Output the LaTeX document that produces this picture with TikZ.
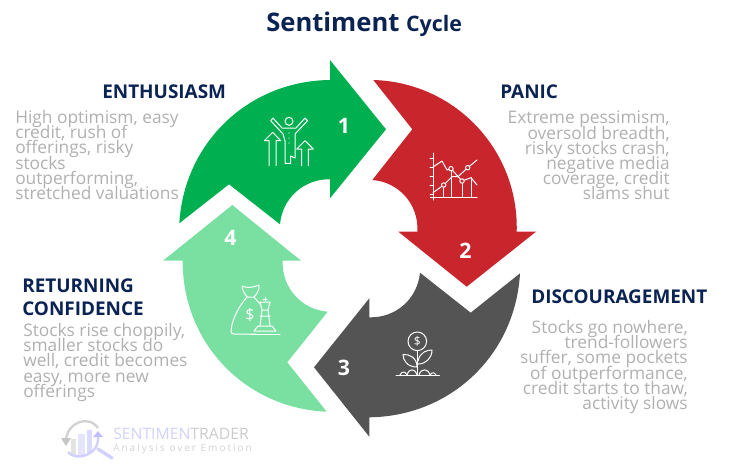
\documentclass[tikz,border=0pt]{standalone}
\usepackage{fontspec}
\usepackage{xcolor}
\setmainfont{Open Sans}
\setlength{\lineskiplimit}{-20pt}
\definecolor{enthgreen}{HTML}{00B050}
\definecolor{panicred}{HTML}{C8252D}
\definecolor{discgray}{HTML}{545454}
\definecolor{confgreen}{HTML}{7AE0A2}
\definecolor{navy}{HTML}{0B2353}
\definecolor{bodygray}{HTML}{B0B0B0}
\tikzset{
    cyclearrow/.style={draw=none},
    heading/.style={anchor=base west, inner sep=0pt, text=navy, font=\fontsize{14.2}{17}\selectfont\bfseries},
    bodyleft/.style={anchor=north west, inner sep=0pt, text=bodygray, align=left, font=\fontsize{13}{11.4}\selectfont},
    bodyright/.style={anchor=north east, inner sep=0pt, text=bodygray, align=right, font=\fontsize{13}{11.4}\selectfont},
    stepnum/.style={inner sep=0pt, text=white, font=\fontsize{16}{18}\selectfont\bfseries},
    icon/.style={draw=white, line width=0.75pt, line join=round, line cap=round},
    dollar/.style={inner sep=0pt, text=white, font=\fontsize{12}{14}\selectfont}
}

\begin{document}
\begin{tikzpicture}[x=0.75pt,y=-0.75pt]
    \useasboundingbox (0,0) rectangle (731,468);
    % title
    \node[anchor=base west, inner sep=0pt, text=navy] (title) at (266,31)
        {\fontsize{19.2}{20}\selectfont\bfseries Sentiment \fontsize{16}{20}\selectfont Cycle};

    % the four arrows
    \fill[cyclearrow, enthgreen] (179.3,223.3) to[bend left=43] (330,80) -- (330,60) -- (386,129.3)
        -- (330,198.3) -- (330,179.3) to[bend right=43] (280,224.3) -- (229,184.3) -- cycle;
    \fill[cyclearrow, panicred] (373.3,80) to[bend left=45] (516.7,231.7) -- (536,231.7) -- (466.7,286.7)
        -- (398.3,231.7) -- (417.3,231.7) to[bend right=45] (372.3,180) -- (412.3,129.3) -- cycle;
    \fill[cyclearrow, discgray] (520,273.3) to[bend left=43] (369.3,417.3) -- (369.3,436.7) -- (314,367.3)
        -- (369.3,298.3) -- (369.3,317.3) to[bend right=43] (420,272.7) -- (470.7,312.7) -- cycle;
    \fill[cyclearrow, confgreen] (326.7,411.7) to[bend left=44] (182.7,260.7) -- (163,260.7) -- (232.3,205)
        -- (301,260.7) -- (282.7,260.7) to[bend right=44] (327.7,311.7) -- (287.3,362.3) -- cycle;

    \node[stepnum] (one) at (344,126) {1};
    \node[stepnum] (two) at (465.5,251) {2};
    \node[stepnum] (three) at (344,368) {3};
    \node[stepnum] (four) at (230.5,238) {4};

    % headings and texts
    \node[heading] (enth) at (102,98) {ENTHUSIASM};
    \node[bodyleft] (enthtext) at (15,110) {High optimism, easy\\credit, rush of\\offerings, risky\\stocks\\outperforming,\\stretched valuations};
    \node[heading] (panic) at (500,98) {PANIC};
    \node[bodyright] (panictext) at (670,111) {Extreme pessimism,\\oversold breadth,\\risky stocks crash,\\negative media\\coverage, credit\\slams shut};
    \node[heading] (disc) at (531,303) {DISCOURAGEMENT};
    \node[bodyright] (disctext) at (688,320) {Stocks go nowhere,\\trend-followers\\suffer, some pockets\\of outperformance,\\credit starts to thaw,\\activity slows};
    \node[heading, align=left, anchor=north west] (conf) at (22,279) {RETURNING\\CONFIDENCE};
    \node[bodyleft] (conftext) at (23,323) {Stocks rise choppily,\\smaller stocks do\\well, credit becomes\\easy, more new\\offerings};

    % icon 1, figure and arrows
    \draw[icon] (289,121.3) circle (4);
    \draw[icon] (270.7,120.7) -- (273,118) -- (282,128) -- (296,128) -- (305,118) -- (307.5,120.7) -- (295,134)
        -- (295,158) -- (290.7,156) -- (290.7,163.3) -- (285,163.3) -- (285,141) -- (283,134) -- cycle;
    \draw[icon] (269,165.7) -- (269,140.7) -- (264.3,140.7) -- (272.7,132.3) -- (280.7,140.7) -- (276,140.7) -- (276,165.7);
    \draw[icon] (301.7,165.7) -- (301.7,149) -- (296.7,149) -- (305,140.7) -- (313.3,149) -- (308.3,149) -- (308.3,165.7);
    \foreach \dy in {133,138,143} \fill[white] (289,\dy) circle (0.7);

    % icon 2, chart
    \draw[icon] (433,153) -- (433,200);
    \draw[icon] (430.3,197) -- (477,197);
    \foreach \ty in {158,167,176,185,194} \draw[icon] (430,\ty) -- (433,\ty);
    \draw[icon] (433,167) -- (442,161) -- (447,170) -- (451,168.7) -- (462,181) -- (471,177.7) -- (477,185);
    \draw[icon] (433,192.7) -- (443.7,185) -- (452,176.7) -- (458,176.7) -- (467.7,167.7) -- (477,160);
    \foreach \bx/\by in {443.7/185,451/168.7,462/181,471.3/177.7} \draw[icon] (\bx,\by) -- (\bx,197);
    \foreach \cx/\cy in {443.7/185,451/168.7,462/181,467.7/167.7} \filldraw[icon, fill=panicred] (\cx,\cy) circle (2.2);

    % icon 3, bag and chess piece
    \draw[icon] (242,286) .. controls (246,288) and (252,288) .. (259,285) .. controls (260,290) and (256,295) .. (254,297)
        -- (247,297) .. controls (245,294) and (242,290) .. (242,286);
    \draw[icon] (247,297) .. controls (240,305) and (232,318) .. (231,331) .. controls (231,333) and (232,334) .. (234,334) -- (256,334);
    \draw[icon] (254,297) -- (260,304);
    \node[dollar] (bagdollar) at (250,315) {\$};
    \draw[icon] (265,297) -- (265,301) (263,299) -- (267,299);
    \draw[icon] (260,302) -- (270,302) -- (268,310) -- (262,310) -- cycle;
    \draw[icon] (262,310) -- (260,326) (268,310) -- (270,326) (260,316) -- (270,316);
    \draw[icon] (258,326) -- (272,326) -- (276,331) -- (254,331) -- cycle;
    \draw[icon] (251,334) -- (280,334);

    % icon 4, plant
    \draw[icon] (417.3,341.3) circle (9.3);
    \node[dollar, font=\fontsize{9}{10}\selectfont] (plantdollar) at (417.3,341.3) {\$};
    \draw[icon] (417.3,350.6) -- (417.3,375);
    \draw[icon] (417,367) .. controls (407,367) and (403,360) .. (403,354.5) .. controls (410,354) and (417,358) .. (417,367);
    \draw[icon] (418,361) .. controls (420,352) and (427,350) .. (432,350) .. controls (432,358) and (426,364) .. (418,364);
    \draw[icon] (396,375.3) -- (439.3,375.3);
    \draw[icon] (400,375) .. controls (402,371) and (405,371) .. (407,375);
    \draw[icon] (407,375) .. controls (409,368) and (415,368) .. (417,375);
    \draw[icon] (419,375) .. controls (421,368) and (428,368) .. (430,375);
    \draw[icon] (430,375) .. controls (432,372) and (434,372) .. (436,375);

    % logo
    \fill[gray!22] (71,439) rectangle (76,455);
    \fill[blue!10] (78,434) rectangle (85,455);
    \fill[blue!14] (87,430) rectangle (92,453);
    \draw[gray!35, line width=1.8pt] (66,440) .. controls (67,423) and (88,414) .. (98,428);
    \fill[gray!45] (61,438) -- (71,438) -- (66,446) -- cycle;
    \draw[blue!18, line width=1.8pt] (68,452) .. controls (76,462) and (100,455) .. (98,436);
    \fill[blue!25] (93,437) -- (103,437) -- (98,431) -- cycle;
    \draw[blue!18, line width=2.5pt, line cap=round] (98,449) -- (112,458);
    \node[anchor=base west, inner sep=0pt, font=\fontsize{11.8}{15}\selectfont] (logoname) at (113,439)
        {\textcolor{blue!18}{SENTIMEN}\textcolor{gray!40}{TRADER}};
    \node[anchor=base west, inner sep=0pt, text=gray!35, font=\fontsize{7.5}{10}\selectfont\addfontfeature{LetterSpace=20}] (logotag) at (113,451)
        {Analysis over Emotion};
\end{tikzpicture}
\end{document}
